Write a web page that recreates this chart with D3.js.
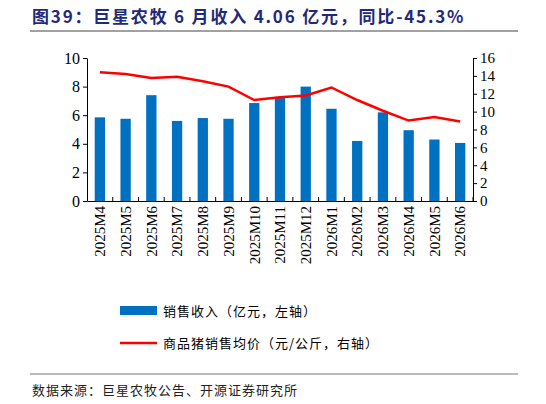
<!DOCTYPE html>
<html lang="zh">
<head>
<meta charset="utf-8">
<style>
  body { margin: 0; background: #fff; }
  text { font-family: "Liberation Serif", "Noto Sans CJK SC", serif; }
  .cjk { font-family: "Noto Sans CJK SC", sans-serif; }
</style>
</head>
<body>
<div id="chart"></div>
<script src="https://cdn.jsdelivr.net/npm/d3@7"></script>
<script>
  // data
  var months = ["2025M4","2025M5","2025M6","2025M7","2025M8","2025M9","2025M10","2025M11","2025M12",
                "2026M1","2026M2","2026M3","2026M4","2026M5","2026M6"];
  var revenue = [5.85,5.75,7.4,5.6,5.8,5.75,6.85,7.2,8.0,6.45,4.2,6.2,4.95,4.3,4.06];
  var hogPrice = [14.4,14.2,13.75,13.9,13.4,12.8,11.3,11.6,11.8,12.7,11.3,10.1,9.0,9.4,8.9];
  var leftTicks = [0,2,4,6,8,10];
  var rightTicks = [0,2,4,6,8,10,12,14,16];

  var W = 546, H = 404;
  var m = {left: 87, right: 473, top: 58, bottom: 201};

  var svg = d3.select("#chart").append("svg").attr("width", W).attr("height", H);

  // title + rules
  svg.append("text").attr("class", "cjk").attr("x", 32).attr("y", 23)
    .attr("font-size", 17).attr("font-weight", "bold").attr("fill", "#1f2a7a")
    .attr("letter-spacing", 1.8)
    .text("图39：巨星农牧 6 月收入 4.06 亿元，同比-45.3%");
  svg.append("line").attr("x1", 30).attr("x2", 518).attr("y1", 31).attr("y2", 31)
    .attr("stroke", "#444").attr("stroke-width", 1.2);
  svg.append("line").attr("x1", 30).attr("x2", 518).attr("y1", 374).attr("y2", 374)
    .attr("stroke", "#777").attr("stroke-width", 1);
  svg.append("text").attr("class", "cjk").attr("x", 32).attr("y", 395)
    .attr("font-size", 13).attr("fill", "#222").attr("letter-spacing", 1)
    .text("数据来源：巨星农牧公告、开源证券研究所");

  var x = d3.scaleBand().domain(months).range([m.left, m.right]).paddingInner(0.6).paddingOuter(0.3);
  var yL = d3.scaleLinear().domain([0, 10]).range([m.bottom, m.top]);
  var yR = d3.scaleLinear().domain([0, 16]).range([m.bottom, m.top]);

  // bars
  svg.selectAll(".bar").data(revenue).enter().append("rect")
    .attr("x", function(d, i) { return x(months[i]); })
    .attr("y", function(d) { return yL(d); })
    .attr("width", x.bandwidth())
    .attr("height", function(d) { return m.bottom - yL(d); })
    .attr("fill", "#0070c0");

  // line
  var line = d3.line()
    .x(function(d, i) { return x(months[i]) + x.bandwidth() / 2; })
    .y(function(d) { return yR(d); });
  svg.append("path").datum(hogPrice).attr("d", line)
    .attr("fill", "none").attr("stroke", "#ff0000").attr("stroke-width", 2.5);

  // axes
  var gl = svg.append("g").attr("transform", "translate(" + m.left + ",0)")
    .call(d3.axisLeft(yL).tickValues(leftTicks).tickSize(4).tickSizeOuter(0));
  var gr = svg.append("g").attr("transform", "translate(" + m.right + ",0)")
    .call(d3.axisRight(yR).tickValues(rightTicks).tickSize(4).tickSizeOuter(0));
  var step = x.step();
  var gx = svg.append("g").attr("transform", "translate(0," + m.bottom + ")")
    .call(d3.axisBottom(x).tickSize(0).tickSizeOuter(0));
  gx.selectAll(".tick").append("line")
    .attr("x1", step / 2).attr("x2", step / 2).attr("y1", 0).attr("y2", -4).attr("stroke", "#000");
  gx.selectAll(".tick text")
    .attr("transform", "rotate(-90)").attr("text-anchor", "end")
    .attr("x", -5).attr("y", 0).attr("dy", "0.35em");

  [gl, gr, gx].forEach(function(g) {
    g.selectAll("text").attr("font-size", 15).attr("fill", "#000")
      .attr("font-family", "Liberation Serif");
    g.selectAll("path, line").attr("stroke", "#000");
  });
  gl.selectAll("text").attr("font-size", 16);

  // legend
  svg.append("rect").attr("x", 120).attr("y", 306).attr("width", 37).attr("height", 9).attr("fill", "#0070c0");
  svg.append("text").attr("class", "cjk").attr("x", 163).attr("y", 316).attr("font-size", 13)
    .attr("letter-spacing", 1).text("销售收入（亿元，左轴）");
  svg.append("line").attr("x1", 120).attr("x2", 157).attr("y1", 343).attr("y2", 343)
    .attr("stroke", "#ff0000").attr("stroke-width", 2.5);
  svg.append("text").attr("class", "cjk").attr("x", 163).attr("y", 348).attr("font-size", 13)
    .attr("letter-spacing", 1).text("商品猪销售均价（元/公斤，右轴）");
</script>
</body>
</html>
